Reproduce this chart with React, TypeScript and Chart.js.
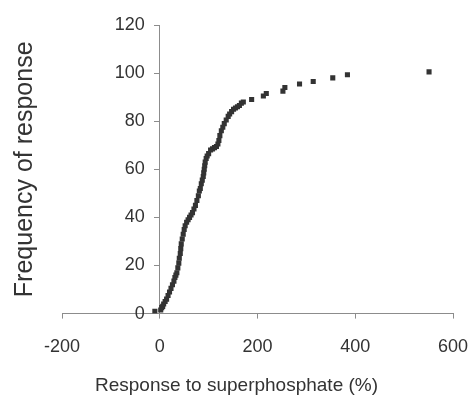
import React, { useEffect, useRef } from "react";
import { Chart, registerables } from "chart.js";

Chart.register(...registerables);

// Response to superphosphate (%) for each site, sorted
const responsePct = [
  -10, 2, 4, 6, 8, 11, 14, 17, 20, 23,
  26, 29, 31, 33, 35, 37, 39, 40, 42, 43,
  44, 46, 48, 50, 52, 55, 58, 61, 64, 67,
  70, 73, 76, 79, 81, 83, 85, 87, 89, 90,
  91, 92, 93, 95, 97, 100, 104, 108, 112, 116,
  119, 121, 123, 126, 129, 132, 136, 140, 143, 147,
  151, 155, 159, 163, 167, 171, 188, 212, 218, 252,
  256, 286, 314, 354, 384, 551,
];
// Cumulative frequency of response (%)
const frequency = [
  1, 1.5, 2.5, 3, 4, 5, 6, 7.5, 9, 10.5,
  12, 13.5, 15, 16, 17, 19, 21, 23, 25, 27,
  29, 31, 33, 35, 36.5, 38, 39, 40, 41, 42,
  43.5, 45, 47, 49, 51, 52, 54, 55.5, 57, 58.5,
  60, 61.5, 63, 64.5, 65.5, 66.5, 68, 68.5, 69, 69.5,
  70.5, 72, 74, 76, 77.5, 79, 80.5, 82, 83, 84,
  85, 85.5, 86, 86.5, 87.5, 88, 89, 90.5, 91.5, 92.5,
  94, 95.5, 96.5, 98, 99.3, 100.5,
];

const xTickValues = [-200, 0, 200, 400, 600];
const yTickValues = [0, 20, 40, 60, 80, 100, 120];
const xTitle = "Response to superphosphate (%)";
const yTitle = "Frequency of response";

const FONT = "'Liberation Sans', Arial, Helvetica, sans-serif";
const TEXT = "#333333";
const AXIS = "#8c8c8c";
const Y_LABEL_GAP = 15;

export default function App() {
  const ref = useRef<HTMLCanvasElement>(null);

  useEffect(() => {
    if (!ref.current) return;
    Chart.defaults.font.family = FONT;
    const chart = new Chart(ref.current, {
      type: "scatter",
      data: {
        datasets: [
          {
            data: responsePct.map((x, i) => ({ x, y: frequency[i] })),
            pointStyle: "rect",
            pointRadius: 3.6,
            backgroundColor: "#333333",
            borderColor: "#333333",
            borderWidth: 0,
          },
        ],
      },
      options: {
        animation: false,
        responsive: false,
        events: [],
        plugins: {
          legend: { display: false },
          tooltip: { enabled: false },
          title: {
            display: true,
            position: "bottom",
            text: xTitle,
            color: TEXT,
            font: { size: 19, weight: "normal" },
            padding: { top: -2, bottom: -2 },
          },
        },
        layout: { padding: { left: 8, right: 5, top: 25, bottom: 0 } },
        scales: {
          x: {
            type: "linear",
            position: "bottom",
            min: -200,
            max: 600,
            afterBuildTicks: (s: any) => {
              s.ticks = xTickValues.map((v) => ({ value: v }));
            },
            afterFit: (s: any) => {
              s.paddingRight = 17;
              s.paddingLeft = 19;
            },
            grid: { display: true, drawOnChartArea: false, tickLength: 5, color: AXIS },
            border: { display: true, color: AXIS, width: 1 },
            ticks: { padding: 18, color: TEXT, font: { size: 18 }, maxRotation: 0 },
            title: { display: false },
          },
          y: {
            type: "linear",
            axis: "y",
            position: { x: 0 },
            min: 0,
            max: 120,
            afterBuildTicks: (s: any) => {
              s.ticks = yTickValues.map((v) => ({ value: v }));
            },
            afterFit: (s: any) => {
              s.width = 0;
            },
            afterUpdate: (s: any) => {
              if (s.__patched) return;
              s.__patched = true;
              const orig = s._computeLabelItems.bind(s);
              s._computeLabelItems = (area: any) =>
                orig(area).map((item: any) => ({
                  ...item,
                  options: {
                    ...item.options,
                    translation: [item.options.translation[0] - Y_LABEL_GAP, item.options.translation[1]],
                  },
                }));
            },
            grid: { display: true, drawOnChartArea: false, tickLength: 5, color: AXIS },
            border: { display: true, color: AXIS, width: 1 },
            ticks: { padding: 0, color: TEXT, font: { size: 18 } },
            title: { display: false },
          },
          yt: {
            type: "linear",
            axis: "y",
            position: "left",
            min: 0,
            max: 120,
            grid: { display: false },
            border: { display: false },
            ticks: { display: false },
            title: {
              display: true,
              text: yTitle,
              color: TEXT,
              font: { size: 25 },
              padding: { top: 2, bottom: 14 },
            },
          },
        },
      },
    } as any);
    return () => chart.destroy();
  }, []);

  return (
    <div style={{ position: "fixed", left: 0, top: 0, width: 470, height: 395, background: "#ffffff" }}>
      <canvas ref={ref} width={470} height={395} style={{ display: "block" }} />
    </div>
  );
}
